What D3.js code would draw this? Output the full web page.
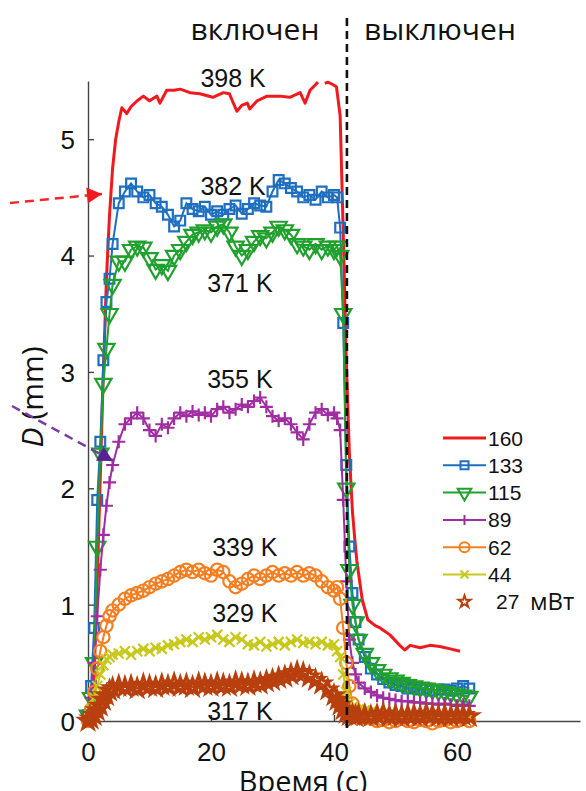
<!DOCTYPE html>
<html><head><meta charset="utf-8">
<script src="https://cdn.jsdelivr.net/npm/d3@7"></script>
<style>body{margin:0;background:#fff} svg{display:block}</style>
</head><body><svg id="c" width="586" height="791"></svg>
<script>
// ---------- data ----------
const T = [0,0.5,1,1.5,2,2.5,3,3.5,4,
  5,6,7,8,9,10,11,12,13,14,15,16,17,18,19,20,21,22,23,24,25,26,27,28,29,30,31,32,33,34,35,36,37,38,39,40,
  40.5,41,41.5,42,42.5,43,43.5,44,
  45,46,47,48,49,50,51,52,53,54,55,56,57,58,59,60,61,62];

const redT = [0,0.5,1,1.5,2,2.5,3,3.5,4,4.5,5,5.5,6.3,7,8,9,10,11.2,11.7,12.8,14,15,16.6,18.2,20.3,22,23,24.2,25,25.9,26.3,27.5,29.1,31.2,32.8,34.5,35.3,36.1,37.4,37.9,38.5,39,39.8,40.4,41,41.5,42,42.5,43,43.4,43.7,44.6,45.5,46.7,47.5,49.1,50.7,51.5,52.4,54,55.6,57.2,58.9,60.5];
const red160 = [0.02,0.1,0.4,1.2,2.1,3.0,3.8,4.35,4.75,5.0,5.15,5.27,5.22,5.28,5.33,5.37,5.33,5.37,5.31,5.42,5.42,5.43,5.4,5.39,5.36,5.4,5.39,5.24,5.29,5.31,5.26,5.33,5.37,5.37,5.36,5.4,5.31,5.42,5.49,null,5.48,5.49,5.47,5.45,5.2,4.2,3.1,2.3,1.8,1.55,1.38,1.04,0.87,0.82,0.8,0.74,0.65,0.61,0.65,0.63,0.65,0.64,0.62,0.6];

const blue133 = [0.05,0.3,0.8,1.9,2.4,3.1,3.6,3.8,4.1,
  4.45,4.55,4.62,4.55,4.5,4.52,4.45,4.42,4.35,4.25,4.3,4.45,4.4,4.38,4.42,4.35,4.38,4.35,4.4,4.43,4.36,4.4,4.45,4.43,4.42,4.55,4.65,4.62,4.58,4.55,4.5,4.52,4.48,4.55,4.5,4.52,
  4.5,4.24,3.42,2.2,1.5,1.1,0.85,0.7,
  0.55,0.45,0.4,0.36,0.33,0.31,0.3,0.28,0.29,0.27,0.28,0.26,0.27,0.27,0.26,0.28,0.3,0.28];
const green115 = [0.05,0.2,0.5,1.5,2.3,2.9,3.2,3.5,3.75,
  3.95,3.95,4.05,4.08,4.07,3.98,3.88,3.92,3.87,4.0,4.05,4.12,4.18,4.2,4.22,4.2,4.25,4.27,4.2,4.08,4.0,4.05,4.12,4.17,4.15,4.2,4.25,4.22,4.18,4.1,4.08,4.05,4.1,4.05,4.08,4.05,
  4.08,4.0,3.5,2.0,1.3,1.0,0.85,0.7,
  0.58,0.5,0.44,0.4,0.37,0.35,0.33,0.31,0.3,0.29,0.28,0.27,0.26,0.25,0.24,0.23,0.22,0.21];
const purple89 = [0.0,0.2,0.5,0.9,1.3,1.6,1.85,2.05,2.2,
  2.4,2.55,2.6,2.65,2.6,2.5,2.45,2.55,2.52,2.6,2.65,2.62,2.66,2.63,2.65,2.62,2.68,2.7,2.65,2.68,2.72,2.7,2.75,2.78,2.7,2.62,2.58,2.6,2.55,2.48,2.42,2.55,2.65,2.68,2.63,2.65,
  2.6,2.5,1.9,1.2,0.7,0.5,0.4,0.33,
  0.28,0.25,0.22,0.2,0.19,0.18,0.17,0.17,0.16,0.16,0.15,0.15,0.14,0.15,0.14,0.13,0.14,0.13];
const orange62 = [0.0,0.1,0.25,0.45,0.6,0.72,0.82,0.9,0.95,
  1.0,1.05,1.08,1.1,1.12,1.15,1.18,1.2,1.22,1.25,1.28,1.3,1.28,1.3,1.27,1.25,1.3,1.28,1.2,1.15,1.18,1.22,1.25,1.22,1.25,1.28,1.25,1.27,1.25,1.28,1.25,1.27,1.25,1.2,1.15,1.12,
  1.15,1.05,0.8,0.5,0.3,0.15,0.08,0.05,
  0.03,0.02,0.0,0.01,-0.01,0.0,0.02,0.0,-0.01,0.01,0.0,-0.02,0.0,0.01,-0.01,0.0,0.02,0.0];
const yellow44 = [0.0,0.1,0.2,0.3,0.4,0.48,0.53,0.55,0.57,
  0.58,0.6,0.57,0.6,0.62,0.6,0.63,0.62,0.65,0.66,0.68,0.7,0.68,0.72,0.7,0.72,0.74,0.7,0.68,0.72,0.7,0.66,0.65,0.68,0.64,0.66,0.68,0.65,0.68,0.7,0.67,0.68,0.66,0.68,0.65,0.66,
  0.6,0.55,0.4,0.25,0.15,0.12,0.1,0.1,
  0.09,0.08,0.07,0.06,0.06,0.05,0.05,0.05,0.04,0.05,0.04,0.05,0.04,0.04,0.05,0.04,0.04,0.04];
const brown27 = [0.0,0.02,0.05,0.09,0.13,0.18,0.22,0.26,0.28,
  0.3,0.29,0.3,0.28,0.31,0.3,0.29,0.31,0.3,0.32,0.3,0.31,0.29,0.32,0.31,0.3,0.32,0.31,0.3,0.33,0.32,0.31,0.33,0.32,0.34,0.35,0.37,0.38,0.4,0.42,0.41,0.38,0.35,0.32,0.27,0.22,
  0.18,0.14,0.1,0.07,0.05,0.05,0.04,0.05,
  0.05,0.04,0.05,0.06,0.04,0.05,0.04,0.05,0.05,0.04,0.06,0.05,0.04,0.05,0.04,0.05,0.05,0.04];

const powerLabels = ["160","133","115","89","62","44","27"];
const powerUnit = "мВт";
const tempLabels = ["398 K","382 K","371 K","355 K","339 K","329 K","317 K"];
const tempT = [23.6,23.6,24.7,24.7,25.5,25.5,24.7];
const tempD = [5.45,4.52,3.69,2.86,1.42,0.85,0.01];
const xTicks = [0,20,40,60];
const yTicks = [0,1,2,3,4,5];
const switchT = 42.1;
const phaseOn = "включен", phaseOff = "выключен";
const xTitle = "Время (с)";

// ---------- drawing ----------
const svg = d3.select("#c");
const x = d3.scaleLinear().domain([0,80]).range([88,580]);
const y = d3.scaleLinear().domain([0,5.5]).range([721,81]);
const NUM = "'Liberation Sans', Arial, sans-serif";
const TXT = "'Open Sans', 'Noto Sans', sans-serif";

// axes
const gx = svg.append("g").attr("transform","translate(0,721)")
  .call(d3.axisBottom(x).tickValues(xTicks).tickSize(-6).tickSizeOuter(0).tickPadding(22).tickFormat(d3.format("d")));
const gy = svg.append("g").attr("transform","translate(88,0)")
  .call(d3.axisLeft(y).tickValues(yTicks).tickSize(-6).tickSizeOuter(0).tickPadding(13).tickFormat(d3.format("d")));
[gx,gy].forEach(g=>{
  g.select(".domain").attr("stroke","#444").attr("stroke-width",1.4);
  g.selectAll(".tick line").attr("stroke","#444").attr("stroke-width",1.4);
  g.selectAll(".tick text").attr("font-family",NUM).attr("font-size",26).attr("fill","#111");
});
gy.selectAll(".tick text").attr("dy","0.36em");
gy.selectAll(".tick").filter(d=>d===0).select("line").remove();

const series = [
  {v:blue133, c:"#1f6fc0", m:"square"},
  {v:green115, c:"#20a02c", m:"tri"},
  {v:purple89, c:"#a02ea2", m:"plus"},
  {v:orange62, c:"#f47e20", m:"circle"},
  {v:yellow44, c:"#c8c81c", m:"x"},
  {v:brown27, c:"#b8400e", m:"star"}
];
function markerPath(m, legend){
  if(m==="square") return d3.symbol().type(d3.symbolSquare).size(legend?64:95)();
  if(m==="tri") return d3.symbol().type(d3.symbolTriangle).size(legend?80:115)();
  if(m==="circle") return d3.symbol().type(d3.symbolCircle).size(legend?80:120)();
  if(m==="star") return d3.symbol().type(d3.symbolStar).size(legend?45:85)();
  if(m==="plus") return legend ? "M-5,0H5M0,-5V5" : "M-6.5,0H6.5M0,-6.5V6.5";
  if(m==="x") return legend ? "M-4,-4L4,4M-4,4L4,-4" : "M-5,-5L5,5M-5,5L5,-5";
}
function markerTransform(m){ return m==="tri" ? " rotate(180)" : ""; }

// red line
const redData = redT.map((t,i)=>({t, v:red160[i]}));
svg.append("path").datum(redData)
  .attr("fill","none").attr("stroke","#f01a1e").attr("stroke-width",3).attr("stroke-linejoin","round")
  .attr("d", d3.line().defined(d=>d.v!==null).x(d=>x(d.t)).y(d=>y(d.v)));

series.forEach(s=>{
  const data = T.map((t,i)=>({t, v:s.v[i]}));
  const g = svg.append("g");
  g.append("path").datum(data).attr("fill","none").attr("stroke",s.c).attr("stroke-width",2)
    .attr("d", d3.line().x(d=>x(d.t)).y(d=>y(d.v)));
  g.selectAll("path.m").data(data).join("path").attr("class","m")
    .attr("d", markerPath(s.m,false))
    .attr("transform", d=>`translate(${x(d.t)},${y(d.v)})` + markerTransform(s.m))
    .attr("fill", "none")
    .attr("stroke", s.c).attr("stroke-width", s.m==="star"?3:2.2);
});

// switch line
svg.append("line").attr("x1",x(switchT)).attr("x2",x(switchT)).attr("y1",18).attr("y2",731)
  .attr("stroke","#111").attr("stroke-width",2.6).attr("stroke-dasharray","8,5");

// phase labels
svg.append("text").attr("x",255).attr("y",40).attr("text-anchor","middle")
  .attr("font-family",TXT).attr("font-size",30).attr("fill","#111").text(phaseOn);
svg.append("text").attr("x",440).attr("y",40).attr("text-anchor","middle")
  .attr("font-family",TXT).attr("font-size",30).attr("fill","#111").text(phaseOff);

// temperature labels
tempLabels.forEach((l,i)=>{
  svg.append("text").attr("x",x(tempT[i])).attr("y",y(tempD[i])).attr("text-anchor","middle")
    .attr("font-family",NUM).attr("font-size",25).attr("fill","#111").text(l);
});

// axis titles
svg.append("text").attr("x",303).attr("y",792).attr("text-anchor","middle")
  .attr("font-family",TXT).attr("font-size",29).attr("fill","#111").text(xTitle);
const yl = svg.append("text").attr("transform","translate(43,397) rotate(-90)").attr("text-anchor","middle")
  .attr("font-family",TXT).attr("font-size",30).attr("fill","#111");
yl.append("tspan").attr("font-style","italic").text("D");
yl.append("tspan").text(" (mm)");

// arrows
function arrow(x1,y1,x2,y2,col,head){
  svg.append("line").attr("x1",x1).attr("y1",y1).attr("x2",x2).attr("y2",y2)
    .attr("stroke",col).attr("stroke-width",2.5).attr("stroke-dasharray","9,6");
  const a = Math.atan2(y2-y1,x2-x1)*180/Math.PI;
  svg.append("path").attr("d","M0,0L-15,-8L-15,8Z").attr("fill",head)
    .attr("transform",`translate(${x2},${y2}) rotate(${a})`);
}
arrow(10,203,102,194,"#f0282a","#f01a1e");
arrow(12,406,113,461,"#7a3aa8","#5a2096");

// legend
const lg = svg.append("g");
const legendMarks = [null,"square","tri","plus","circle","x","star"];
const legendCols = ["#f01a1e"].concat(series.map(s=>s.c));
powerLabels.forEach((p,i)=>{
  const yy = 438 + i*27.3;
  if(i<6){
    lg.append("line").attr("x1",443).attr("x2",486).attr("y1",yy).attr("y2",yy)
      .attr("stroke",legendCols[i]).attr("stroke-width",i===0?3:2);
  }
  if(legendMarks[i]){
    const m = legendMarks[i];
    lg.append("path").attr("d",markerPath(m,true)).attr("transform",`translate(464.5,${yy})`+markerTransform(m))
      .attr("fill","none").attr("stroke",legendCols[i]).attr("stroke-width",2);
  }
  lg.append("text").attr("x", i===6?496:488).attr("y",yy).attr("dy","0.36em")
    .attr("font-family",NUM).attr("font-size",21).attr("fill","#111").text(p);
  if(i===6){
    lg.append("text").attr("x",530).attr("y",yy).attr("dy","0.36em")
      .attr("font-family",TXT).attr("font-size",24).attr("fill","#111").text(powerUnit);
  }
});
</script></body></html>
